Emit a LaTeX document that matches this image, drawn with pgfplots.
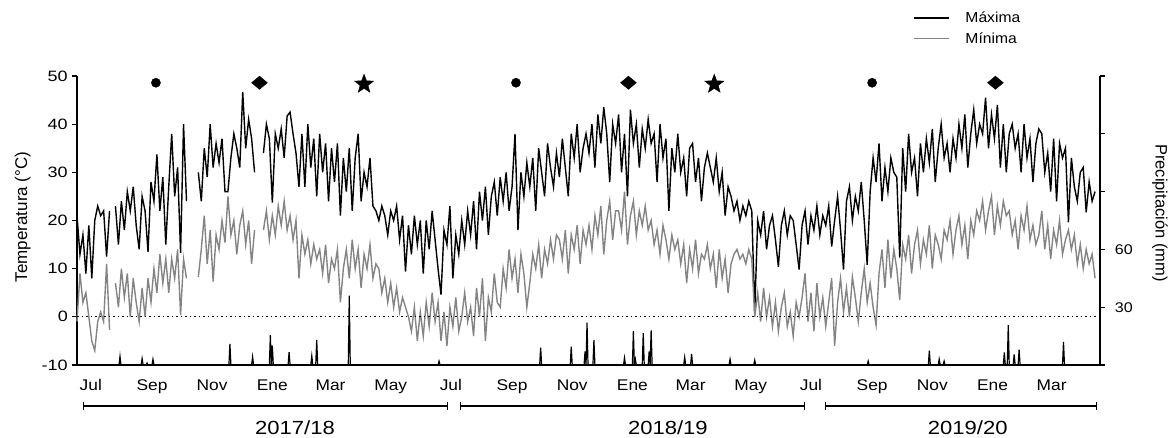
\documentclass[border=0pt]{standalone}
\usepackage{fontspec}
\setmainfont{Liberation Sans}
\usepackage{pgfplots}
\usepackage{pgfplotstable}
\pgfplotsset{compat=1.18}
\usetikzlibrary{arrows.meta}

\definecolor{mingray}{RGB}{132,132,132}

% filled five-point star
\pgfdeclareplotmark{fstar}{%
  \pgfpathmoveto{\pgfpointpolar{90}{\pgfplotmarksize}}%
  \pgfpathlineto{\pgfpointpolar{126}{0.42\pgfplotmarksize}}%
  \pgfpathlineto{\pgfpointpolar{162}{\pgfplotmarksize}}%
  \pgfpathlineto{\pgfpointpolar{198}{0.42\pgfplotmarksize}}%
  \pgfpathlineto{\pgfpointpolar{234}{\pgfplotmarksize}}%
  \pgfpathlineto{\pgfpointpolar{270}{0.42\pgfplotmarksize}}%
  \pgfpathlineto{\pgfpointpolar{306}{\pgfplotmarksize}}%
  \pgfpathlineto{\pgfpointpolar{342}{0.42\pgfplotmarksize}}%
  \pgfpathlineto{\pgfpointpolar{18}{\pgfplotmarksize}}%
  \pgfpathlineto{\pgfpointpolar{54}{0.42\pgfplotmarksize}}%
  \pgfpathclose
  \pgfusepathqfillstroke
}

% day (0 = 1 Jul 2017), max, min temperature
\pgfplotstableread[row sep=\\]{
d tmax tmin\\
0 21 -1\\ 3 13 9\\ 6 17 3\\ 9 9 5\\ 12 19 0\\ 15 8 -5\\ 18 20 -7\\ 21 23 -1\\ 24 21 1\\ 27 22 -1\\ 30 12.5 11\\
33 22 -2.7\\ 36 nan nan\\ 39 23 7\\ 42 15 2\\ 45 24 10\\ 48 18 4\\ 51 26 9\\ 54 22 0\\ 57 27 8\\ 60 19 3\\
63 14 -1\\ 66 25 6\\ 69 22 0\\ 72 13.5 8\\ 75 28 3\\ 78 24 10\\ 81 33.7 5\\ 84 22 13\\ 87 29 7\\ 90 15 12\\
93 27 5\\ 96 38 12\\ 99 25 8\\ 102 31 14\\ 105 13.3 0.4\\ 108 40 12\\ 111 24 8\\ 114 nan nan\\ 117 nan nan\\ 120 nan nan\\
123 30 8.3\\ 126 24 14\\ 129 35 21\\ 132 29 11\\ 135 40 18\\ 138 31 7.3\\ 141 36 17\\ 144 32 14\\ 147 37 20\\ 150 26 15.4\\
153 26 25\\ 156 33 17\\ 159 38 20\\ 162 35 13\\ 165 31 19\\ 168 46.7 22\\ 171 35 15\\ 174 41 20\\ 177 37 11\\ 180 30 18\\ 183 nan nan\\
186 nan nan\\ 189 34 18\\ 192 40 22\\ 195 37 16\\ 198 23.7 21\\ 201 38 17\\ 204 35 23\\ 207 39 19\\ 210 33 24\\ 213 41.7 18\\
216 42.5 21\\ 219 38 16\\ 222 34 20\\ 225 27 8\\ 228 38 17\\ 231 27 13\\ 234 40 16\\ 237 31 11\\ 240 37 15\\
243 25 12\\ 246 38 14\\ 249 30 9\\ 252 36 15\\ 255 24 7\\ 258 35 12\\ 261 28 10\\ 264 36 14\\ 267 21 3\\ 270 33 10\\ 273 26 14\\
276 35 8\\ 279 22 16\\ 282 33 10\\ 285 38 14\\ 288 24 6\\ 291 30 13\\ 294 27 10\\ 297 33 15\\ 300 23 8\\ 303 22 11\\
306 20 10\\ 309 23 5\\ 312 21 8\\ 315 17 3\\ 318 22 7\\ 321 20 2\\ 324 23 6\\ 327 16 1\\ 330 21 4\\ 333 9.4 2\\
336 19 0\\ 339 13 -3\\ 342 21 2\\ 345 15 -5\\ 348 20 1\\ 351 9 -4\\ 354 20 3\\ 357 14 -2\\ 360 22 5\\ 363 16 -1\\
366 10 3\\ 369 4.6 -5\\ 372 18 1\\ 375 15 -6\\ 378 23 2\\ 381 8 -2\\ 384 17 4\\ 387 13 -3\\ 390 20 0\\ 393 15 5\\ 396 22 -1\\
399 17 2\\ 402 24 -4\\ 405 14 6\\ 408 26 0\\ 411 20 8\\ 414 27 -5\\ 417 17 4\\ 420 25 1\\ 423 28 9\\ 426 21 3\\
429 29 2\\ 432 24 10\\ 435 30 6\\ 438 22 14\\ 441 27 8\\ 444 38 12\\ 447 18 5\\ 450 30 13\\ 453 25 9\\ 456 32 2\\
459 27 7\\ 462 33 13\\ 465 22 10\\ 468 35 15\\ 471 30 8\\ 474 25 14\\ 477 36 11\\ 480 31 16\\ 483 27 12\\ 486 34 17\\
489 29 16\\ 492 37 12\\ 495 31 18\\ 498 25 9\\ 501 38 17\\ 504 33 14\\ 507 40 19\\ 510 30 11\\ 513 35 18\\ 516 38 15\\
519 34 19\\ 522 40 14\\ 525 31 21\\ 528 42 17\\ 531 36 23\\ 534 43.5 13\\ 537 38 20\\ 540 28 24\\ 543 40 16\\ 546 36 22\\
549 42 22\\ 552 30 18\\ 555 38 26\\ 558 25 15\\ 561 43 21\\ 564 36 24\\ 567 40 17\\ 570 31 22\\ 573 39 19\\ 576 35 23\\ 579 41 18\\
582 36 20\\ 585 38 15\\ 588 28 18\\ 591 40 13\\ 594 33 19\\ 597 37 16\\ 600 22 12\\ 603 35 17\\ 606 30 14\\
609 38 16\\ 612 30 11\\ 615 33 15\\ 618 25 7\\ 621 35 14\\ 624 36 10\\ 627 28 16\\ 630 33 9\\ 633 24 13\\ 636 31 12\\
639 34 15\\ 642 31 10\\ 645 28 13\\ 648 33 6\\ 651 26 14\\ 654 30 8\\ 657 21 12\\ 660 27 5\\ 663 25 11\\ 666 22 13\\
669 24 14\\ 672 20 12\\ 675 23 13\\ 678 21 11\\ 681 24 14\\ 684 22 12\\ 687 1 0\\ 690 20 5\\ 693 17 -1\\ 696 22 6\\
699 14 0\\ 702 19 4\\ 705 21 -2\\ 708 16 3\\ 711 10.4 -3\\ 714 19 2\\ 717 22 5\\ 720 17 -2\\ 723 21 1\\ 726 20 -4\\ 729 15 3\\
732 9.8 0\\ 735 19 4\\ 738 22 9\\ 741 15 -1\\ 744 21 5\\ 747 18 -3\\ 750 23 7\\ 753 17 0\\ 756 21 4\\ 759 19 -2\\
762 23 3\\ 765 14.6 8\\ 768 20 -6\\ 771 25 3\\ 774 18 8\\ 777 9.8 1\\ 780 24 6\\ 783 27 0\\ 786 20 8.3\\ 789 25 4\\
792 22 -1\\ 795 28 5\\ 798 20 10\\ 801 10.8 3\\ 804 26 7\\ 807 33 2\\ 810 28 -1.7\\ 813 36 9\\ 816 24 14\\ 819 31 6\\
822 26 16\\ 825 33 8\\ 828 30 14\\ 831 29 10\\ 834 12.3 3.5\\ 837 35 15\\ 840 26 12\\ 843 38 17\\ 846 30 9\\ 849 33 15\\
852 25 18\\ 855 36 11\\ 858 30 16\\ 861 37 13\\ 864 32 19\\ 867 39 10\\ 870 28 17\\ 873 35 15\\ 876 40 12\\ 879 33 18\\
882 36 16\\ 885 30 20\\ 888 37 13\\ 891 33 18\\ 894 40 21\\ 897 35 15\\ 900 42 19\\ 903 31 12\\ 906 38 20\\ 909 43 17\\ 912 36 22\\
915 40 20\\ 918 38 24\\ 921 45.5 18\\ 924 35 22\\ 927 42 25\\ 930 37 17\\ 933 44 23\\ 936 31 19\\ 939 40 24\\ 942 30 21\\
945 38 22\\ 948 40 17\\ 951 35 20\\ 954 38 14\\ 957 30 21\\ 960 40 18\\ 963 33 23\\ 966 37 16\\ 969 28 19\\ 972 36 15\\
975 39 17\\ 978 38 22\\ 981 30 14\\ 984 34 19\\ 987 26 12\\ 990 37 18\\ 993 24 15\\ 996 36 20\\ 999 33 13\\ 1002 35 16\\
1005 19.6 18\\ 1008 33 14\\ 1011 27 17\\ 1014 24 11\\ 1017 30 15\\ 1020 31 10\\ 1023 21.7 14\\ 1026 28 11\\ 1029 24 13\\ 1032 26 8\\
}\temps

% day, precipitation (mm)
\pgfplotstableread[row sep=\\]{
d pp\\
0 0\\ 42.6 0\\ 43.6 4.5\\ 44.6 0\\ 65 0\\ 66 3.3\\ 67 0\\ 70 0\\ 71 1\\ 72 0\\ 76 0\\ 77 3\\ 78 0\\
154 0\\ 155 11\\ 156 0\\ 177 0\\ 178 4.3\\ 179 0\\ 195 0\\ 196 15.5\\ 197 0\\ 198 10\\ 199 0\\
214 0\\ 215 6.7\\ 216 0\\ 237 0\\ 238 4.7\\ 239 0\\ 242 0\\ 243 13\\ 244 0\\ 275 0\\ 276 36\\ 277 0\\
366 0\\ 367 2\\ 368 0\\
469 0\\ 470 9\\ 471 0\\ 500 0\\ 501 9.5\\ 502 0\\ 514 0\\ 515 7\\ 516 0\\ 517 22\\ 518 0\\ 523 0\\ 524 13\\ 525 0\\
554 0\\ 555 3.7\\ 556 0\\ 563 0\\ 564 17.6\\ 565 0\\ 566 3\\ 567 0\\ 573 0\\ 574 16.5\\ 575 0\\
579 0\\ 580 7\\ 581 0\\ 582 18\\ 583 0\\ 615 0\\ 616 4\\ 617 0\\ 622 0\\ 623 5.7\\ 624 0\\
661 0\\ 662 3\\ 663 0\\ 686 0\\ 687 2.5\\ 688 0\\
801 0\\ 802 2\\ 803 0\\ 863 0\\ 864 7.5\\ 865 0\\ 873 0\\ 874 3\\ 875 0\\ 878 0\\ 879 2\\ 880 0\\
939 0\\ 940 6.5\\ 941 0\\ 943 0\\ 944 20.7\\ 945 0\\ 949 0\\ 950 5.5\\ 951 0\\ 954 0\\ 955 8\\ 956 0\\
999 0\\ 1000 12\\ 1001 0\\ 1034 0\\
}\rain

\begin{document}
\begin{tikzpicture}
\useasboundingbox (0,0) rectangle (1171pt,438pt);
\begin{axis}[
  at={(77pt,73pt)}, anchor=south west,
  width=1023pt, height=289pt, scale only axis,
  xmin=0, xmax=1037, ymin=-10, ymax=50,
  axis x line*=bottom, axis y line*=left,
  axis line style={-, line width=1.3pt},
  clip=false,
  /pgf/number format/assume math mode=true,
  ytick={-10,0,...,50},
  tick align=outside, major tick length=5pt,
  ytick style={line width=1.3pt, black},
  yticklabel style={font=\fontsize{15}{15}\selectfont, xscale=1.2},
  xtick={14,76,137,198,257,318,379,441,502,563,622,683,744,806,867,928,988},
  xticklabels={Jul,Sep,Nov,Ene,Mar,May,Jul,Sep,Nov,Ene,Mar,May,Jul,Sep,Nov,Ene,Mar},
  xtick style={draw=none},
  xticklabel style={font=\fontsize{15.5}{15.5}\selectfont, xscale=1.12, yshift=-6pt},
  ylabel={Temperatura (°C)},
  ylabel style={at={(axis description cs:-0.053,0.512)}, anchor=center, font=\fontsize{17}{17}\selectfont},
  legend style={draw=none, fill=none, at={(axis description cs:0.8172,1.226)}, anchor=north west,
    inner sep=0pt, font=\fontsize{14.5}{14.5}\selectfont, row sep=6.5pt,
    nodes={inner sep=1pt, xscale=1.08},
    /tikz/every odd column/.append style={column sep=15pt}},
  legend cell align=left,
  legend image code/.code={\draw[#1, line width=1.2pt] (0pt,0pt) -- (35pt,0pt);},
]
\addplot[black, line width=1.4pt, unbounded coords=jump] table[x=d, y=tmax] {\temps};
\addlegendentry{Máxima}
\addplot[mingray, line width=1.4pt, unbounded coords=jump] table[x=d, y=tmin] {\temps};
\addlegendentry{Mínima}
\addplot[black, line width=1pt, dash pattern=on 1.5pt off 3pt, forget plot] coordinates {(0,0) (1037,0)};
\addplot[only marks, mark=*, mark size=4.6pt, black, forget plot] coordinates {(80,48.6) (445,48.6) (806,48.6)};
\addplot[only marks, mark=diamond*, mark size=6.6pt, mark options={xscale=1.6}, black, forget plot] coordinates {(185,48.6) (559,48.6) (931,48.6)};
\addplot[only marks, mark=fstar, mark size=10pt, black, forget plot] coordinates {(291,48.3) (646,48.3)};
% season brackets
\draw[line width=1.3pt, {Bar[width=8pt]}-{Bar[width=8pt]}] (axis cs:6,-18.5) -- (axis cs:376,-18.5);
\draw[line width=1.3pt, {Bar[width=8pt]}-{Bar[width=8pt]}] (axis cs:388,-18.5) -- (axis cs:738,-18.5);
\draw[line width=1.3pt, {Bar[width=8pt]}-{Bar[width=8pt]}] (axis cs:758,-18.5) -- (axis cs:1034,-18.5);
\node[font=\fontsize{19}{19}\selectfont, xscale=1.16] at (axis cs:221,-23.1) {2017/18};
\node[font=\fontsize{19}{19}\selectfont, xscale=1.16] at (axis cs:599,-23.1) {2018/19};
\node[font=\fontsize{19}{19}\selectfont, xscale=1.16] at (axis cs:903,-23.1) {2019/20};
\end{axis}
\begin{axis}[
  at={(77pt,73pt)}, anchor=south west,
  width=1023pt, height=289pt, scale only axis,
  xmin=0, xmax=1037, ymin=0, ymax=150,
  axis x line=none, axis y line*=right,
  axis line style={-, line width=1.3pt},
  /pgf/number format/assume math mode=true,
  ytick={0,30,...,150}, yticklabels={,30,60,,,},
  tick align=outside, major tick length=5pt,
  ytick style={line width=1.3pt, black},
  yticklabel style={font=\fontsize{14}{14}\selectfont, xscale=1.15, xshift=5pt},
  ylabel={Precipitación (mm)},
  ylabel style={at={(axis description cs:1.0587,0.526)}, anchor=center, rotate=180, font=\fontsize{16.5}{17}\selectfont},
]
\addplot[black, line width=1.2pt] table[x=d, y=pp] {\rain};
\end{axis}
\end{tikzpicture}
\end{document}
